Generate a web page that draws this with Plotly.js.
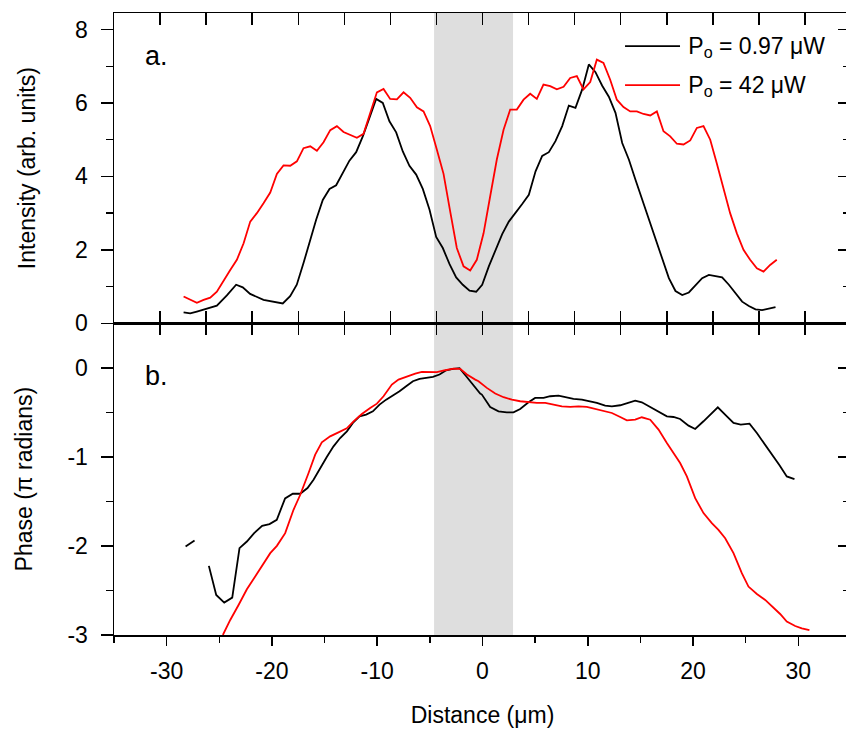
<!DOCTYPE html>
<html>
<head>
<meta charset="utf-8">
<script src="https://cdn.plot.ly/plotly-3.0.1.min.js"></script>
<style>
html,body{margin:0;padding:0;overflow:hidden;background:#fff;}
#chart{width:855px;height:729px;}
</style>
</head>
<body>
<div id="chart"></div>
<script>
// ---------- data ----------
const intensityLowX = [-28.39,-27.76,-27.13,-25.86,-25.23,-24.28,-23.40,-22.77,-22.07,-20.80,-19.85,-18.97,-18.27,-17.64,-17.00,-16.37,-15.80,-15.17,-14.53,-13.90,-13.27,-12.64,-12.00,-11.37,-10.74,-10.10,-9.47,-8.84,-8.20,-7.57,-6.94,-6.30,-5.67,-5.03,-4.40,-3.77,-3.13,-2.50,-1.87,-1.23,-0.60,-0.03,0.60,1.24,1.87,2.50,3.14,3.77,4.40,5.04,5.67,6.30,6.93,7.57,8.20,8.83,9.47,10.10,10.73,11.37,12.00,12.63,13.27,13.90,14.53,15.17,15.80,16.43,17.07,17.70,18.33,18.97,19.60,20.23,20.86,21.50,22.13,22.76,23.40,24.03,24.66,25.30,25.93,26.56,27.20,27.83];
const intensityLowY = [0.30,0.27,0.32,0.44,0.48,0.76,1.05,0.98,0.80,0.64,0.58,0.54,0.74,1.05,1.64,2.27,2.82,3.36,3.66,3.76,4.09,4.43,4.66,5.09,5.59,6.11,6.00,5.50,5.20,4.68,4.29,4.05,3.66,3.09,2.35,2.05,1.61,1.25,1.05,0.89,0.86,1.05,1.55,2.00,2.43,2.77,3.00,3.25,3.50,4.14,4.56,4.66,4.96,5.37,5.93,5.87,6.37,7.05,6.84,6.47,6.17,5.73,4.91,4.46,3.91,3.36,2.82,2.27,1.73,1.23,0.88,0.77,0.84,1.05,1.23,1.32,1.29,1.25,1.05,0.82,0.59,0.47,0.38,0.36,0.39,0.44];

const intensityHighX = [-28.39,-27.76,-27.13,-26.49,-25.86,-25.23,-24.59,-23.96,-23.33,-22.69,-22.06,-21.43,-20.80,-20.16,-19.53,-18.90,-18.26,-17.63,-17.00,-16.36,-15.73,-15.10,-14.46,-13.83,-13.20,-12.57,-11.93,-11.30,-10.67,-10.03,-9.40,-8.77,-8.13,-7.50,-6.87,-6.23,-5.60,-4.97,-4.34,-3.70,-3.07,-2.44,-1.80,-1.17,-0.54,0.10,0.73,1.36,2.00,2.63,3.26,3.90,4.53,5.16,5.79,6.43,7.06,7.70,8.33,8.96,9.59,10.23,10.86,11.49,12.12,12.76,13.39,14.03,14.66,15.29,15.93,16.56,17.19,17.83,18.46,19.09,19.73,20.36,20.99,21.63,22.25,22.89,23.52,24.16,24.79,25.42,26.06,26.69,27.32,27.95];
const intensityHighY = [0.73,0.65,0.56,0.64,0.70,0.86,1.14,1.45,1.73,2.18,2.77,3.00,3.27,3.56,4.07,4.30,4.29,4.41,4.77,4.82,4.70,4.93,5.26,5.37,5.21,5.14,5.05,5.16,5.73,6.29,6.38,6.11,6.10,6.29,6.14,5.88,5.77,5.37,4.73,4.07,3.05,2.05,1.55,1.44,1.73,2.45,3.46,4.46,5.27,5.82,5.82,6.09,6.25,6.11,6.50,6.46,6.37,6.44,6.68,6.73,6.37,6.57,7.18,7.09,6.64,6.09,5.89,5.77,5.77,5.70,5.66,5.77,5.23,5.09,4.89,4.87,4.98,5.32,5.37,5.00,4.36,3.64,3.00,2.45,2.00,1.73,1.50,1.41,1.59,1.73];

const phaseLowX = [-28.20,-27.35,null,-25.99,-25.29,-24.53,-23.77,-23.08,-22.38,-21.69,-20.93,-20.23,-19.54,-18.75,-18.02,-17.32,-16.62,-16.05,-15.42,-14.79,-14.15,-13.52,-12.88,-12.31,-11.68,-11.05,-10.41,-9.78,-9.15,-8.51,-7.88,-7.25,-6.61,-5.98,-5.35,-4.71,-4.08,-3.45,-2.81,-2.18,-1.55,-0.92,-0.22,-0.06,0.73,1.52,2.31,2.94,3.58,4.37,5.00,5.80,6.43,7.22,8.01,8.64,9.44,10.23,10.86,11.65,12.29,13.08,13.71,14.50,15.13,15.93,16.72,17.51,18.14,18.77,19.57,20.20,20.99,21.63,22.35,23.14,23.84,24.53,25.36,26.06,26.78,27.54,28.21,28.90,29.63];
const phaseLowY = [-2.006,-1.939,null,-2.224,-2.550,-2.636,-2.580,-2.025,-1.950,-1.856,-1.774,-1.755,-1.706,-1.466,-1.414,-1.414,-1.350,-1.256,-1.125,-1.001,-0.882,-0.788,-0.713,-0.619,-0.544,-0.525,-0.488,-0.413,-0.357,-0.312,-0.263,-0.207,-0.150,-0.124,-0.113,-0.102,-0.075,-0.027,-0.012,-0.004,-0.094,-0.188,-0.289,-0.300,-0.439,-0.488,-0.499,-0.499,-0.462,-0.387,-0.338,-0.338,-0.319,-0.312,-0.330,-0.349,-0.357,-0.375,-0.394,-0.424,-0.432,-0.420,-0.394,-0.368,-0.387,-0.439,-0.499,-0.544,-0.552,-0.574,-0.649,-0.687,-0.600,-0.525,-0.443,-0.537,-0.619,-0.638,-0.627,-0.732,-0.852,-0.975,-1.095,-1.219,-1.249];

const phaseHighX = [-24.66,-23.96,-23.17,-22.38,-21.59,-20.80,-20.16,-19.53,-18.74,-17.95,-17.31,-16.52,-15.89,-15.26,-14.47,-13.68,-12.89,-12.25,-11.46,-10.67,-10.03,-9.40,-8.61,-7.98,-7.19,-6.39,-5.76,-4.97,-4.33,-3.54,-2.75,-2.12,-1.48,-0.69,-0.38,0.41,1.21,2.00,2.79,3.58,4.37,5.16,5.96,6.75,7.54,8.33,9.12,9.91,10.70,11.49,12.29,13.08,13.71,14.50,15.13,15.93,16.72,17.51,18.14,18.77,19.41,20.20,20.99,21.78,22.41,23.05,23.84,24.63,25.26,26.06,26.85,27.48,28.27,28.90,29.70,30.33,31.05];
const phaseHighY = [-3.000,-2.831,-2.663,-2.486,-2.344,-2.205,-2.081,-1.999,-1.856,-1.594,-1.425,-1.181,-0.975,-0.837,-0.769,-0.724,-0.679,-0.600,-0.518,-0.450,-0.402,-0.319,-0.188,-0.132,-0.094,-0.064,-0.045,-0.049,-0.049,-0.027,-0.008,-0.012,-0.075,-0.132,-0.150,-0.225,-0.289,-0.330,-0.357,-0.375,-0.387,-0.394,-0.394,-0.413,-0.432,-0.439,-0.432,-0.439,-0.462,-0.477,-0.507,-0.552,-0.589,-0.582,-0.555,-0.582,-0.694,-0.844,-0.957,-1.069,-1.219,-1.463,-1.631,-1.744,-1.819,-1.913,-2.081,-2.306,-2.456,-2.539,-2.606,-2.674,-2.764,-2.850,-2.899,-2.925,-2.944];

const seriesNames = ['P<sub>o</sub> = 0.97 \u03BCW', 'P<sub>o</sub> = 42 \u03BCW'];
const seriesColors = ['#000000', '#ff0000'];
const bandRange = [-4.6, 2.9];

const xTickVals = [-30,-20,-10,0,10,20,30];
const xTickText = ['-30','-20','-10','0','10','20','30'];
const yTopTickVals = [0,2,4,6,8];
const yTopTickText = ['0','2','4','6','8'];
const yBotTickVals = [-3,-2,-1,0];
const yBotTickText = ['-3','-2','-1','0'];

// ---------- plot ----------
const FONT = 'Liberation Sans, Arial, sans-serif';
const LW = 1.8;
const TICKFS = 23;
const TITLEFS = 23;

const traces = [
  {x: intensityLowX, y: intensityLowY, xaxis: 'x2', yaxis: 'y', type: 'scatter', mode: 'lines',
   name: seriesNames[0], showlegend: false, line: {color: seriesColors[0], width: LW}},
  {x: intensityHighX, y: intensityHighY, xaxis: 'x2', yaxis: 'y', type: 'scatter', mode: 'lines',
   name: seriesNames[1], showlegend: false, line: {color: seriesColors[1], width: LW}},
  {x: phaseLowX, y: phaseLowY, xaxis: 'x', yaxis: 'y2', type: 'scatter', mode: 'lines', connectgaps: false,
   showlegend: false, line: {color: seriesColors[0], width: LW}},
  {x: phaseHighX, y: phaseHighY, xaxis: 'x', yaxis: 'y2', type: 'scatter', mode: 'lines',
   showlegend: false, line: {color: seriesColors[1], width: LW}},
  // legend labels (keys drawn as longer lines below, in layout.shapes)
  {x: [null], y: [null], xaxis: 'x2', yaxis: 'y', type: 'scatter', mode: 'lines', name: seriesNames[0],
   legendgroup: 'a', line: {color: seriesColors[0], width: 0}, hoverinfo: 'skip'},
  {x: [null], y: [null], xaxis: 'x2', yaxis: 'y', type: 'scatter', mode: 'lines', name: seriesNames[1],
   legendgroup: 'b', line: {color: seriesColors[1], width: 0}, hoverinfo: 'skip'},
  // empty traces so the tick-only frame axes get drawn
  {x: [], y: [], xaxis: 'x3', yaxis: 'y', type: 'scatter', mode: 'lines', showlegend: false, hoverinfo: 'skip'},
  {x: [], y: [], xaxis: 'x2', yaxis: 'y3', type: 'scatter', mode: 'lines', showlegend: false, hoverinfo: 'skip'},
  {x: [], y: [], xaxis: 'x4', yaxis: 'y2', type: 'scatter', mode: 'lines', showlegend: false, hoverinfo: 'skip'},
  {x: [], y: [], xaxis: 'x', yaxis: 'y4', type: 'scatter', mode: 'lines', showlegend: false, hoverinfo: 'skip'}
];

const split = 0.5011;
const axLine = {showline: true, linecolor: '#000', linewidth: 1.5, zeroline: false, showgrid: false, tickcolor: '#000', tickwidth: 1.5};

// legend key lines (paper space)
const legendRowsY = [0.9469, 0.8842];
const legendKeyX = [0.6934, 0.768];

const layout = {
  width: 855, height: 729,
  margin: {l: 114, r: 4, t: 13, b: 94},
  paper_bgcolor: '#fff', plot_bgcolor: 'rgba(0,0,0,0)',
  font: {family: FONT, size: TICKFS, color: '#000'},
  showlegend: true,
  legend: {x: 0.725, y: 0.9836, xanchor: 'left', yanchor: 'top', bgcolor: 'rgba(0,0,0,0)',
           font: {family: FONT, size: 23, color: '#000'}, traceorder: 'grouped', tracegroupgap: 6},
  xaxis: Object.assign({}, axLine, {anchor: 'y2', domain: [0, 1], range: [-35, 35],
    tickmode: 'array', tickvals: xTickVals, ticktext: xTickText, ticks: 'outside', ticklen: 9,
    ticklabelstandoff: 6,
    minor: {tickmode: 'linear', tick0: 0, dtick: 5, ticks: 'outside', ticklen: 6, tickcolor: '#000', tickwidth: 1.5},
    tickfont: {family: FONT, size: TICKFS},
    title: {text: 'Distance (\u03BCm)', font: {family: FONT, size: TITLEFS}, standoff: 24}}),
  xaxis2: Object.assign({}, axLine, {anchor: 'y', domain: [0, 1], range: [-35, 35], ticks: '', showticklabels: false}),
  xaxis3: Object.assign({}, axLine, {overlaying: 'x2', anchor: 'y', side: 'top', range: [-40, 40],
    tickmode: 'linear', tick0: 0, dtick: 5, ticks: 'inside', ticklen: 12, showticklabels: false, mirror: 'ticks'}),
  xaxis4: Object.assign({}, axLine, {overlaying: 'x', anchor: 'y2', side: 'top', range: [-40, 40],
    tickmode: 'linear', tick0: 0, dtick: 5, ticks: 'inside', ticklen: 12, showticklabels: false}),
  yaxis: Object.assign({}, axLine, {anchor: 'x2', domain: [split, 1], range: [0, 8.45],
    tickmode: 'array', tickvals: yTopTickVals, ticktext: yTopTickText, ticks: 'outside', ticklen: 12,
    ticklabelstandoff: 8,
    minor: {tickmode: 'linear', tick0: 0, dtick: 1, ticks: 'outside', ticklen: 7, tickcolor: '#000', tickwidth: 1.5},
    tickfont: {family: FONT, size: TICKFS},
    title: {text: 'Intensity (arb. units)', font: {family: FONT, size: TITLEFS}, standoff: 33}}),
  yaxis3: Object.assign({}, axLine, {overlaying: 'y', anchor: 'x2', side: 'right', range: [0, 8.45],
    tickmode: 'linear', tick0: 0, dtick: 2, ticks: 'inside', ticklen: 13, showticklabels: false,
    minor: {tickmode: 'linear', tick0: 0, dtick: 1, ticks: 'inside', ticklen: 8, tickcolor: '#000', tickwidth: 1.5}}),
  yaxis2: Object.assign({}, axLine, {anchor: 'x', domain: [0, split], range: [-3, 0.5],
    tickmode: 'array', tickvals: yBotTickVals, ticktext: yBotTickText, ticks: 'outside', ticklen: 12,
    ticklabelstandoff: 8,
    minor: {tickmode: 'linear', tick0: 0, dtick: 0.5, ticks: 'outside', ticklen: 7, tickcolor: '#000', tickwidth: 1.5},
    tickfont: {family: FONT, size: TICKFS},
    title: {text: 'Phase (\u03C0 radians)', font: {family: FONT, size: TITLEFS}, standoff: 28}}),
  yaxis4: Object.assign({}, axLine, {overlaying: 'y2', anchor: 'x', side: 'right', range: [-3, 0.5],
    tickmode: 'linear', tick0: 0, dtick: 1, ticks: 'inside', ticklen: 13, showticklabels: false,
    minor: {tickmode: 'linear', tick0: 0, dtick: 0.5, ticks: 'inside', ticklen: 8, tickcolor: '#000', tickwidth: 1.5}}),
  shapes: [
    {type: 'rect', xref: 'x', yref: 'paper', x0: bandRange[0], x1: bandRange[1], y0: 0, y1: 1,
     fillcolor: '#dedede', line: {width: 0}, layer: 'below'},
    {type: 'line', xref: 'paper', yref: 'paper', x0: legendKeyX[0], x1: legendKeyX[1], y0: legendRowsY[0], y1: legendRowsY[0],
     line: {color: seriesColors[0], width: LW}},
    {type: 'line', xref: 'paper', yref: 'paper', x0: legendKeyX[0], x1: legendKeyX[1], y0: legendRowsY[1], y1: legendRowsY[1],
     line: {color: seriesColors[1], width: LW}}
  ],
  annotations: [
    {text: 'a.', xref: 'paper', yref: 'paper', x: 0.057, y: 0.931, xanchor: 'center', yanchor: 'middle', showarrow: false,
     font: {family: FONT, size: 27, color: '#000'}},
    {text: 'b.', xref: 'paper', yref: 'paper', x: 0.057, y: 0.416, xanchor: 'center', yanchor: 'middle', showarrow: false,
     font: {family: FONT, size: 27, color: '#000'}}
  ]
};

Plotly.newPlot('chart', traces, layout, {displayModeBar: false, staticPlot: true});
</script>
</body>
</html>
